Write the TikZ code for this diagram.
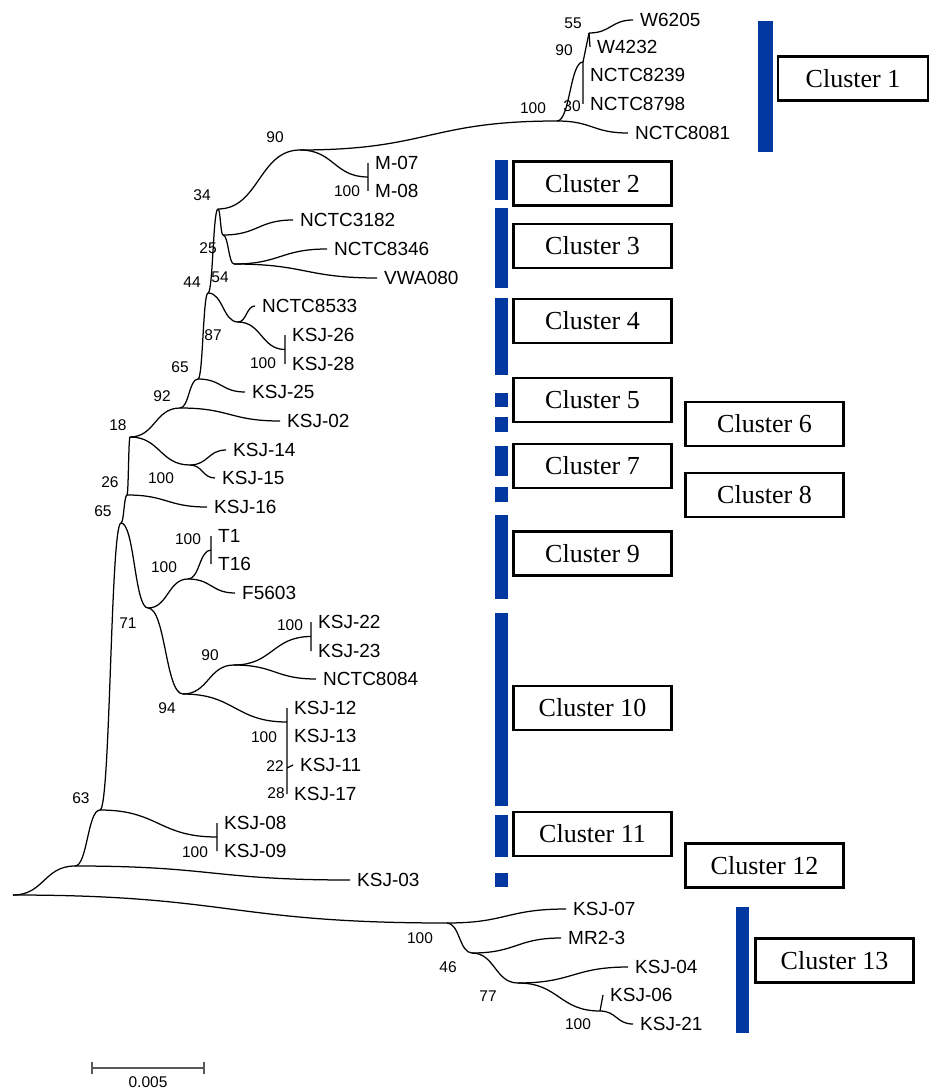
\documentclass[tikz,border=0pt]{standalone}
\usepackage{fontspec}
\setmainfont{Liberation Sans}
\newfontfamily\clusterfont{Liberation Serif}
\usetikzlibrary{calc}
\definecolor{barblue}{RGB}{0,56,160}

\begin{document}
\begin{tikzpicture}[x=1pt, y=-1pt,
    tree/.style={line width=1.25pt},
    br/.style={to path={let \p1=(\tikztostart), \p2=(\tikztotarget) in .. controls ({0.5*\x1+0.5*\x2},\y1) and ({0.5*\x1+0.5*\x2},\y2) .. (\tikztotarget)}},
    tip/.style={anchor=west, inner xsep=7pt, inner ysep=0pt, text height=13.6pt, text depth=0pt, font=\fontsize{19}{19}\selectfont},
    boot/.style={inner sep=0pt, font=\fontsize{15.5}{15.5}\selectfont},
    cluster/.style={draw, line width=2.2pt, minimum width=158pt, minimum height=44pt, inner sep=0pt, font=\clusterfont\fontsize{26}{26}\selectfont}]
\useasboundingbox (0,0) rectangle (928,1091);

\coordinate (root) at (13,895);
\coordinate (nA) at (75,866);
\coordinate (n63) at (100,810);
\coordinate (n65b) at (121,523);
\coordinate (n26) at (127,495);
\coordinate (n18) at (130,437);
\coordinate (n92) at (180,408);
\coordinate (n65a) at (198,379);
\coordinate (n44) at (208,293);
\coordinate (n34) at (218,209);
\coordinate (n25) at (223,235);
\coordinate (n54) at (234,264);
\coordinate (n90) at (300,150);
\coordinate (n100) at (557,121);
\coordinate (n90c) at (583,62);
\coordinate (n55) at (589,33);
\coordinate (n87) at (238,322);
\coordinate (n100a) at (190,465);
\coordinate (n71) at (148,608);
\coordinate (n100b) at (188,579);
\coordinate (n94) at (183,694);
\coordinate (n90b) at (234,665);
\coordinate (n100c) at (447,923);
\coordinate (n46) at (472,953);
\coordinate (n77) at (518,983);
\coordinate (n100d) at (600,1011);

\node[tip] (w6205) at (633,20) {W6205};
\node[tip] (w4232) at (590,47) {W4232};
\node[tip] (nctc8239) at (583,75) {NCTC8239};
\node[tip] (nctc8798) at (583,104) {NCTC8798};
\node[tip] (nctc8081) at (628,133) {NCTC8081};
\node[tip] (m07) at (368,163) {M-07};
\node[tip] (m08) at (368,191) {M-08};
\node[tip] (nctc3182) at (293,220) {NCTC3182};
\node[tip] (nctc8346) at (327,249) {NCTC8346};
\node[tip] (vwa080) at (377,278) {VWA080};
\node[tip] (nctc8533) at (255,306) {NCTC8533};
\node[tip] (ksj26) at (285,335) {KSJ-26};
\node[tip] (ksj28) at (285,364) {KSJ-28};
\node[tip] (ksj25) at (245,392) {KSJ-25};
\node[tip] (ksj02) at (280,421) {KSJ-02};
\node[tip] (ksj14) at (226,450) {KSJ-14};
\node[tip] (ksj15) at (215,478) {KSJ-15};
\node[tip] (ksj16) at (207,507) {KSJ-16};
\node[tip] (t1) at (211,536) {T1};
\node[tip] (t16) at (211,564) {T16};
\node[tip] (f5603) at (235,593) {F5603};
\node[tip] (ksj22) at (311,622) {KSJ-22};
\node[tip] (ksj23) at (311,651) {KSJ-23};
\node[tip] (nctc8084) at (316,679) {NCTC8084};
\node[tip] (ksj12) at (287,708) {KSJ-12};
\node[tip] (ksj13) at (287,736) {KSJ-13};
\node[tip] (ksj11) at (293,765) {KSJ-11};
\node[tip] (ksj17) at (287,794) {KSJ-17};
\node[tip] (ksj08) at (217,823) {KSJ-08};
\node[tip] (ksj09) at (217,851) {KSJ-09};
\node[tip] (ksj03) at (350,880) {KSJ-03};
\node[tip] (ksj07) at (566,909) {KSJ-07};
\node[tip] (mr23) at (561,938) {MR2-3};
\node[tip] (ksj04) at (628,967) {KSJ-04};
\node[tip] (ksj06) at (603,995) {KSJ-06};
\node[tip] (ksj21) at (633,1024) {KSJ-21};

\coordinate (mcl) at ($(m07.west)!0.5!(m08.west)$);
\coordinate (c2628) at ($(ksj26.west)!0.5!(ksj28.west)$);
\coordinate (ctcl) at ($(t1.west)!0.5!(t16.west)$);
\coordinate (c2223) at ($(ksj22.west)!0.5!(ksj23.west)$);
\coordinate (c1213) at ($(ksj12.west)!0.5!(ksj13.west)$);
\coordinate (c0809) at ($(ksj08.west)!0.5!(ksj09.west)$);
\coordinate (c11) at (287,768);

\draw[tree]
    (root) edge[br] (nA) edge[br] (n100c)
    (nA) edge[br] (n63) edge[br] (ksj03.west)
    (n63) edge[br] (n65b) edge[br] (c0809)
    (n65b) edge[br] (n26) edge[br] (n71)
    (n26) edge[br] (n18) edge[br] (ksj16.west)
    (n18) edge[br] (n92) edge[br] (n100a)
    (n100a) edge[br] (ksj14.west) edge[br] (ksj15.west)
    (n92) edge[br] (n65a) edge[br] (ksj02.west)
    (n65a) edge[br] (n44) edge[br] (ksj25.west)
    (n44) edge[br] (n34) edge[br] (n87)
    (n87) edge[br] (nctc8533.west) edge[br] (c2628)
    (n34) edge[br] (n90) edge[br] (n25)
    (n25) edge[br] (nctc3182.west) edge[br] (n54)
    (n54) edge[br] (nctc8346.west) edge[br] (vwa080.west)
    (n90) edge[br] (mcl) edge[br] (n100)
    (n100) edge[br] (n90c) edge[br] (nctc8081.west)
    (n90c) edge (n55)
    (n55) edge[br] (w6205.west)
    (n71) edge[br] (n100b) edge[br] (n94)
    (n100b) edge[br] (ctcl) edge[br] (f5603.west)
    (n94) edge[br] (n90b) edge[br] (c1213)
    (n90b) edge[br] (c2223) edge[br] (nctc8084.west)
    (n100c) edge[br] (ksj07.west) edge[br] (n46)
    (n46) edge[br] (mr23.west) edge[br] (n77)
    (n77) edge[br] (ksj04.west) edge[br] (n100d)
    (n100d) edge[br] (ksj21.west) edge (ksj06.west);
\draw[tree]
    (m07.west) -- (m08.west)
    (ksj26.west) -- (ksj28.west)
    (t1.west) -- (t16.west)
    (ksj22.west) -- (ksj23.west)
    (ksj12.west) -- (ksj17.west)
    (c11) -- (ksj11.west)
    (ksj08.west) -- (ksj09.west)
    (n55) -- (w4232.west)
    (n90c) -- (nctc8798.west);

\node[boot] (b55) at (573,23) {55};
\node[boot] (b90c) at (564,50) {90};
\node[boot] (b100) at (533,108) {100};
\node[boot] (b30) at (572,106) {30};
\node[boot] (b90) at (275,137) {90};
\node[boot] (b34) at (202,195) {34};
\node[boot] (b100m) at (347,191) {100};
\node[boot] (b25) at (208,248) {25};
\node[boot] (b44) at (192,282) {44};
\node[boot] (b54) at (220,277) {54};
\node[boot] (b87) at (213,335) {87};
\node[boot] (b100k26) at (263,363) {100};
\node[boot] (b65a) at (180,367) {65};
\node[boot] (b92) at (162,396) {92};
\node[boot] (b18) at (118,425) {18};
\node[boot] (b100k14) at (161,478) {100};
\node[boot] (b26) at (110,482) {26};
\node[boot] (b65b) at (103,511) {65};
\node[boot] (b100t) at (188,539) {100};
\node[boot] (b100f) at (164,567) {100};
\node[boot] (b71) at (128,623) {71};
\node[boot] (b100k22) at (290,625) {100};
\node[boot] (b90b) at (210,655) {90};
\node[boot] (b94) at (167,708) {94};
\node[boot] (b100k12) at (264,737) {100};
\node[boot] (b22) at (275,766) {22};
\node[boot] (b28) at (276,793) {28};
\node[boot] (b63) at (81,798) {63};
\node[boot] (b100k09) at (195,852) {100};
\node[boot] (b100c) at (420,938) {100};
\node[boot] (b46) at (448,967) {46};
\node[boot] (b77) at (488,996) {77};
\node[boot] (b100d) at (578,1024) {100};

\fill[barblue] (758,21) rectangle (773,152);
\fill[barblue] (495,160) rectangle (508,200);
\fill[barblue] (495,208) rectangle (508,288);
\fill[barblue] (495,298) rectangle (508,375);
\fill[barblue] (495,393) rectangle (508,407);
\fill[barblue] (495,417) rectangle (508,432);
\fill[barblue] (495,446) rectangle (508,476);
\fill[barblue] (495,487) rectangle (508,502);
\fill[barblue] (495,515) rectangle (508,599);
\fill[barblue] (495,613) rectangle (508,806);
\fill[barblue] (495,815) rectangle (508,857);
\fill[barblue] (495,873) rectangle (508,887);
\fill[barblue] (736,907) rectangle (749,1033);

\node[cluster, minimum width=150pt] (cl1) at (853,78.5) {Cluster 1};
\node[cluster] (cl2) at (592.5,183.5) {Cluster 2};
\node[cluster] (cl3) at (592.5,246) {Cluster 3};
\node[cluster] (cl4) at (592.5,321) {Cluster 4};
\node[cluster] (cl5) at (592.5,400) {Cluster 5};
\node[cluster] (cl6) at (764.5,424) {Cluster 6};
\node[cluster] (cl7) at (592.5,466) {Cluster 7};
\node[cluster] (cl8) at (764.5,495) {Cluster 8};
\node[cluster] (cl9) at (592.5,553.5) {Cluster 9};
\node[cluster] (cl10) at (592.5,708) {Cluster 10};
\node[cluster] (cl11) at (592.5,834) {Cluster 11};
\node[cluster] (cl12) at (764.5,865.5) {Cluster 12};
\node[cluster] (cl13) at (834.5,960.5) {Cluster 13};

\coordinate (sbl) at (92,1068);
\coordinate (sbr) at (204,1068);
\draw[line width=1.4pt, black!65] (sbl) -- (sbr) ($(sbl)+(0,-6)$) -- ($(sbl)+(0,6)$) ($(sbr)+(0,-6)$) -- ($(sbr)+(0,6)$);
\node[boot] (scale) at (148,1082) {0.005};
\end{tikzpicture}
\end{document}
